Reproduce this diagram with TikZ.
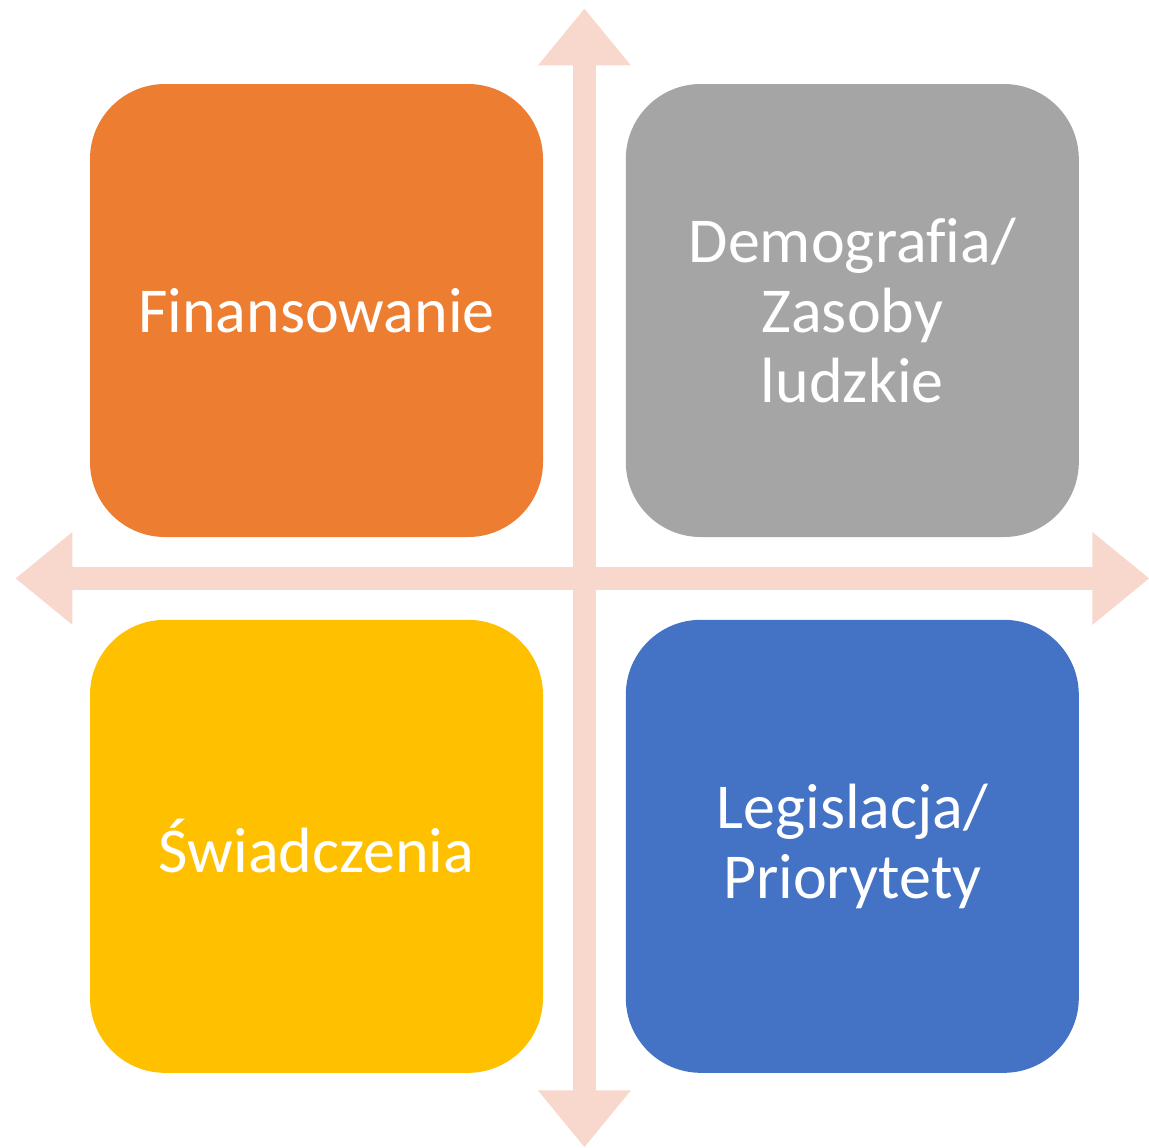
\documentclass[tikz,border=0pt]{standalone}
\usepackage{fontspec}
\setmainfont{Carlito}[Ligatures=NoCommon]
\usetikzlibrary{positioning,calc,arrows.meta}
\definecolor{finOrange}{HTML}{ED7D31}
\definecolor{demoGray}{HTML}{A5A5A5}
\definecolor{swiYellow}{HTML}{FFC000}
\definecolor{legBlue}{HTML}{4472C4}
\definecolor{axisPink}{HTML}{F8D7CD}

\begin{document}
\begin{tikzpicture}
  [node distance=41pt,
   quadN/.style={rectangle,rounded corners=37.5pt,minimum size=226.5pt,
     inner sep=0pt,text=white,align=center,font=\fontsize{32}{35}\selectfont},
   axisTip/.tip={Triangle[length=28.5pt,width=44.5pt]},
   axisA/.style={draw=axisPink,line width=11.5pt,axisTip-axisTip},
  ]

 \useasboundingbox (0,0) rectangle (574.5pt,-573.5pt);

 \node[quadN,fill=finOrange] (fin) at (158.25pt,-155.25pt) {Finansowanie};
 \node[quadN,fill=demoGray] (demo) [right=of fin] {Demografia/\\Zasoby\\ludzkie};
 \node[quadN,fill=swiYellow] (swi) [below=of fin] {Świadczenia};
 \node[quadN,fill=legBlue] (leg) [right=of swi] {Legislacja/\\Priorytety};

 \coordinate (mid) at ($(fin)!0.5!(leg)$);
 \coordinate (upE) at ($(mid)+(0,285pt)$);
 \coordinate (downE) at ($(mid)+(0,-284.5pt)$);
 \coordinate (leftE) at ($(mid)+(-284.5pt,0)$);
 \coordinate (rightE) at ($(mid)+(282.5pt,0)$);

 \draw[axisA] (upE) -- (downE);
 \draw[axisA] (leftE) -- (rightE);

\end{tikzpicture}
\end{document}
